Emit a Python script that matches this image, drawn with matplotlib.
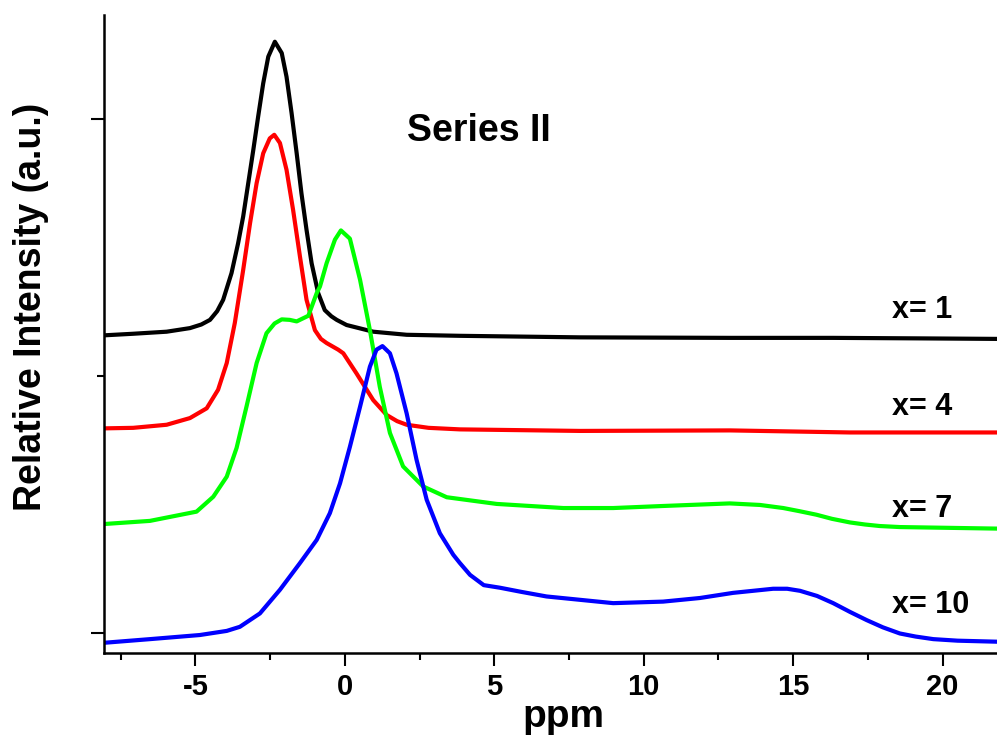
import numpy as np
import matplotlib
matplotlib.use("Agg")
from matplotlib import pyplot as plt
from matplotlib.ticker import MultipleLocator, NullFormatter

plt.rcParams['font.family'] = ['Liberation Sans', 'DejaVu Sans']
plt.rcParams['font.weight'] = 'bold'
plt.rcParams['axes.unicode_minus'] = False

# x = 1 (black)
ppm_1 = [-8.03, -7.08, -5.96, -5.18, -4.80, -4.51, -4.27, -4.07, -3.79, -3.57, -3.40, -3.23,
         -3.06, -2.90, -2.73, -2.56, -2.34, -2.11, -1.95, -1.78, -1.61, -1.45, -1.28, -1.11,
         -0.89, -0.67, -0.45, -0.27, 0.06, 0.95, 2.07, 3.85, 7.87, 12.89, 16.33, 19.24, 21.82]
int_1 = [0.579, 0.582, 0.586, 0.593, 0.600, 0.609, 0.626, 0.648, 0.700, 0.758, 0.810, 0.875,
         0.940, 1.004, 1.069, 1.121, 1.150, 1.128, 1.082, 1.011, 0.933, 0.855, 0.784, 0.719,
         0.661, 0.628, 0.616, 0.609, 0.599, 0.586, 0.580, 0.578, 0.575, 0.574, 0.574, 0.573,
         0.572]

# x = 4 (red)
ppm_4 = [-8.03, -7.08, -5.96, -5.18, -4.62, -4.24, -3.95, -3.68, -3.40, -3.17, -2.95, -2.73,
         -2.51, -2.36, -2.17, -1.95, -1.73, -1.50, -1.28, -1.00, -0.80, -0.61, -0.22, -0.05,
         0.39, 0.95, 1.40, 1.75, 2.07, 2.80, 3.85, 7.87, 12.89, 16.90, 21.82]
int_4 = [0.398, 0.399, 0.405, 0.418, 0.437, 0.473, 0.525, 0.603, 0.706, 0.797, 0.875, 0.933,
         0.962, 0.969, 0.953, 0.901, 0.823, 0.732, 0.648, 0.589, 0.572, 0.564, 0.551, 0.544,
         0.505, 0.453, 0.424, 0.412, 0.405, 0.399, 0.396, 0.393, 0.394, 0.390, 0.390]

# x = 7 (green)
ppm_7 = [-8.03, -6.52, -4.96, -4.40, -3.95, -3.62, -3.29, -2.95, -2.62, -2.35, -2.11, -1.84,
         -1.61, -1.22, -0.94, -0.83, -0.61, -0.33, -0.13, 0.17, 0.51, 0.84, 1.17, 1.51, 1.95,
         2.62, 3.41, 5.08, 7.31, 8.98, 10.65, 12.88, 13.89, 14.67, 15.20, 15.78, 16.30, 16.90,
         17.40, 17.90, 18.57, 21.82]
int_7 = [0.212, 0.218, 0.236, 0.265, 0.304, 0.360, 0.440, 0.525, 0.583, 0.602, 0.610, 0.609,
         0.606, 0.617, 0.661, 0.674, 0.719, 0.765, 0.783, 0.767, 0.687, 0.589, 0.479, 0.389,
         0.324, 0.285, 0.264, 0.251, 0.243, 0.243, 0.247, 0.252, 0.249, 0.243, 0.237, 0.230,
         0.222, 0.215, 0.211, 0.208, 0.206, 0.203]

# x = 10 (blue)
ppm_10 = [-8.03, -6.52, -4.85, -3.95, -3.51, -2.84, -2.17, -1.50, -0.94, -0.50, -0.16, 0.17,
          0.51, 0.84, 1.06, 1.26, 1.51, 1.73, 2.07, 2.40, 2.74, 3.18, 3.63, 3.85, 4.19, 4.65,
          5.19, 5.90, 6.75, 8.98, 10.65, 11.88, 12.99, 14.33, 14.80, 15.23, 15.80, 16.34, 16.90,
          17.46, 18.00, 18.57, 19.10, 19.69, 20.50, 21.82]
int_10 = [-0.019, -0.012, -0.004, 0.004, 0.012, 0.038, 0.084, 0.136, 0.181, 0.233, 0.291, 0.362,
          0.440, 0.518, 0.551, 0.558, 0.544, 0.505, 0.427, 0.337, 0.259, 0.194, 0.152, 0.136,
          0.113, 0.093, 0.088, 0.080, 0.071, 0.058, 0.061, 0.068, 0.078, 0.086, 0.086, 0.082,
          0.072, 0.058, 0.041, 0.025, 0.011, -0.001, -0.007, -0.012, -0.015, -0.017]

series = [(ppm_1, int_1, 'black', 'x= 1', 0.612),
          (ppm_4, int_4, '#ff0000', 'x= 4', 0.424),
          (ppm_7, int_7, '#00ff00', 'x= 7', 0.226),
          (ppm_10, int_10, '#0000ff', 'x= 10', 0.038)]

fig = plt.figure(figsize=(9.97, 7.43), dpi=100)
ax = fig.add_axes([0.1048, 0.1218, 0.8952, 0.858])

for x, y, c, lab, ly in series:
    ax.plot(x, y, color=c, lw=3, solid_joinstyle='round')
    ax.text(18.3, ly, lab, fontsize=22, fontweight='bold', ha='left', va='baseline')

ax.text(2.08, 0.956, 'Series II', fontsize=27, fontweight='bold', ha='left', va='baseline')

ax.set_xlim(-8.04, 21.82)
ax.set_ylim(-0.038, 1.202)

ax.spines['top'].set_visible(False)
ax.spines['right'].set_visible(False)
ax.spines['left'].set_linewidth(1.8)
ax.spines['bottom'].set_linewidth(1.8)

ax.xaxis.set_major_locator(MultipleLocator(5))
ax.xaxis.set_minor_locator(MultipleLocator(2.5))
ax.yaxis.set_major_locator(MultipleLocator(1))
ax.yaxis.set_minor_locator(MultipleLocator(0.5))
ax.yaxis.set_major_formatter(NullFormatter())
ax.tick_params(which='major', direction='out', length=9.5, width=1.5, labelsize=21, pad=5)
ax.tick_params(which='minor', direction='out', length=5, width=1.5)
for t in ax.get_xticklabels():
    t.set_fontweight('bold')

fig.text(0.565, 0.0215, 'ppm', fontsize=28, fontweight='bold', ha='center', va='baseline')
fig.text(0.031, 0.587, 'Relative Intensity (a.u.)', fontsize=27, fontweight='bold',
         rotation=90, ha='center', va='center')

plt.savefig('out.png', dpi=100)
